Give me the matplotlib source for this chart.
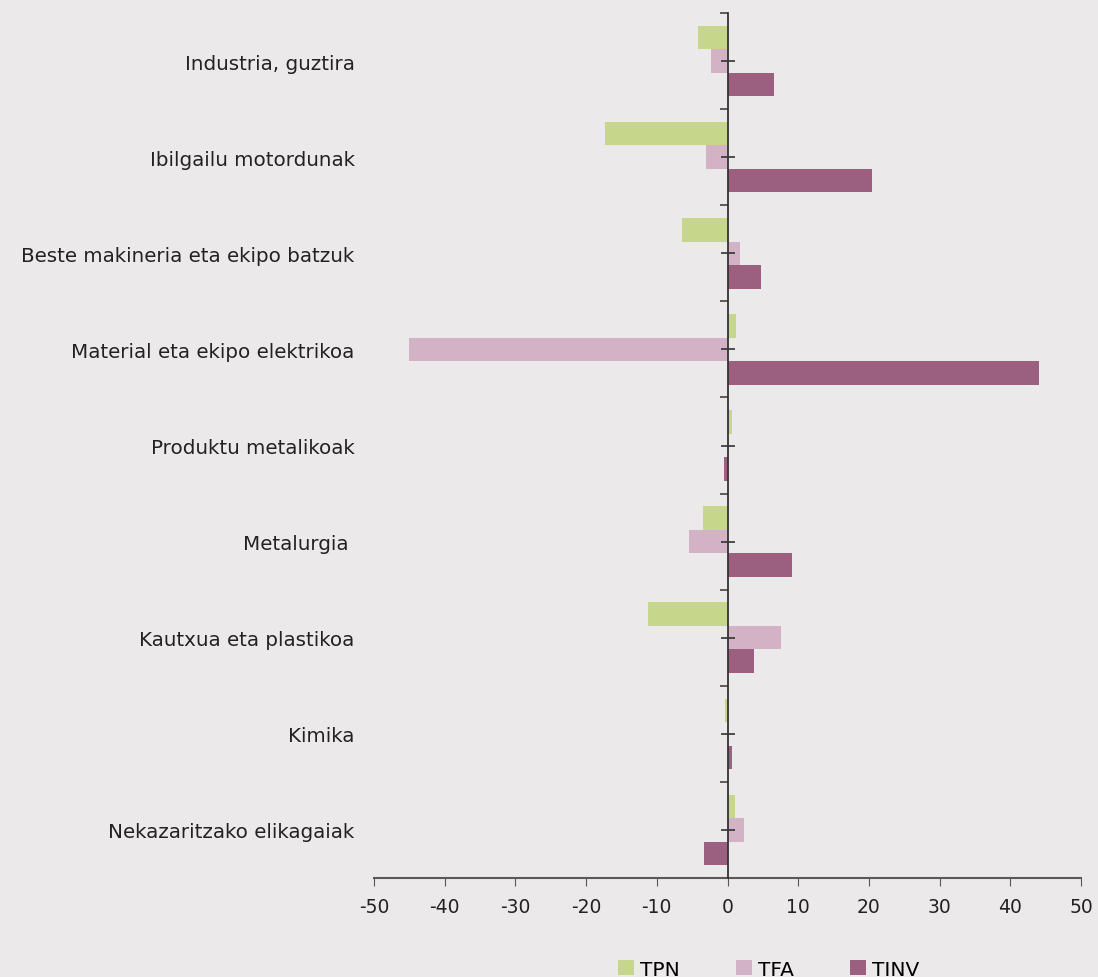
import matplotlib.pyplot as plt
import numpy as np
from matplotlib.ticker import FixedLocator

categories = ["Industria, guztira", "Ibilgailu motordunak", "Beste makineria eta ekipo batzuk",
              "Material eta ekipo elektrikoa", "Produktu metalikoak", "Metalurgia ",
              "Kautxua eta plastikoa", "Kimika", "Nekazaritzako elikagaiak"]
tpn = [-4.2, -17.3, -6.4, 1.2, 0.6, -3.4, -11.2, -0.3, 1.1]
tfa = [-2.4, -3.0, 1.7, -45.0, 0.0, -5.5, 7.6, 0.0, 2.4]
tinv = [6.6, 20.4, 4.8, 44.0, -0.5, 9.1, 3.8, 0.6, -3.3]

BG = "#ebe9ea"
C_TPN = "#c6d78b"
C_TFA = "#d3b2c5"
C_TINV = "#9b5f80"
AX = "#595959"

plt.rcParams["font.family"] = ["DejaVu Sans"]
plt.rcParams["axes.unicode_minus"] = False

fig = plt.figure(figsize=(10.98, 9.78), dpi=100, facecolor=BG)
ax = fig.add_axes([374 / 1098, 99 / 978, 707 / 1098, 865 / 978])
ax.set_facecolor(BG)

n = len(categories)
y = np.arange(n)[::-1].astype(float)  # top category first
h = 0.245
ax.barh(y + h, tpn, height=h, color=C_TPN, label="TPN")
ax.barh(y, tfa, height=h, color=C_TFA, label="TFA")
ax.barh(y - h, tinv, height=h, color=C_TINV, label="TINV")

ax.set_xlim(-50, 50)
ax.set_ylim(-0.5, n - 0.5)
ax.set_xticks(np.arange(-50, 51, 10))
ax.tick_params(axis="x", direction="out", length=6, color=AX, labelsize=13.5, pad=8, labelcolor="#222222")
ax.set_yticks(y)
ax.set_yticklabels(categories, fontsize=14.3, color="#222222")
ax.tick_params(axis="y", length=0, pad=14)
for s in ["top", "right", "left"]:
    ax.spines[s].set_visible(False)
ax.spines["bottom"].set_color(AX)
ax.spines["bottom"].set_linewidth(1.5)

# vertical category axis through x = 0
ax2 = ax.twinx()
ax2.set_ylim(ax.get_ylim())
for s in ["top", "right", "bottom"]:
    ax2.spines[s].set_visible(False)
ax2.spines["left"].set_visible(True)
ax2.spines["left"].set_position(("data", 0))
ax2.spines["left"].set_color("#333333")
ax2.spines["left"].set_linewidth(1.3)
ax2.yaxis.set_ticks_position("left")
ax2.yaxis.set_major_locator(FixedLocator(list(y)))
ax2.yaxis.set_minor_locator(FixedLocator(list(np.arange(n) + 0.5)))
ax2.tick_params(axis="y", which="major", direction="inout", length=10, width=1.2, color="#333333", labelleft=False, labelright=False)
ax2.tick_params(axis="y", which="minor", direction="out", length=6, width=1.2, color="#444444", labelleft=False, labelright=False)

handles, labels = ax.get_legend_handles_labels()
fig.legend(handles, labels, loc="center", bbox_to_anchor=(0.70, 0.008), ncol=3, frameon=False,
           fontsize=14.5, handlelength=0.8, handleheight=0.8, handletextpad=0.3, columnspacing=2.8)

plt.savefig("out.png", dpi=100, facecolor=BG)
